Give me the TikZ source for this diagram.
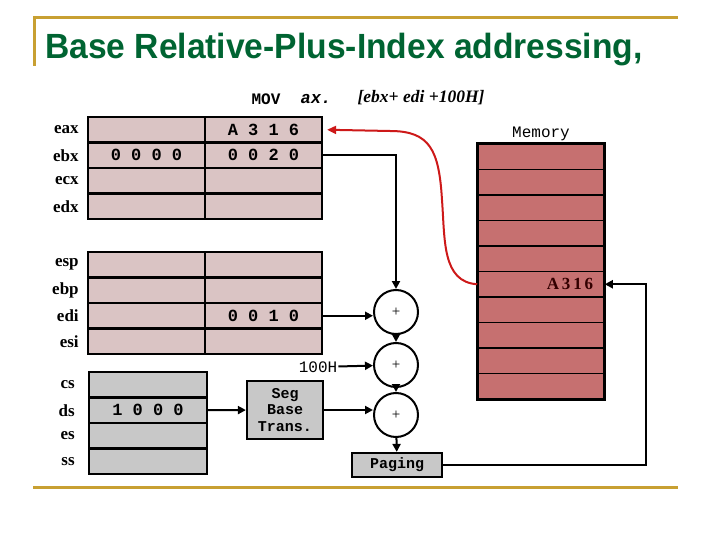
\documentclass[tikz,border=0pt]{standalone}
\usepackage{fontspec}
\setmainfont{Liberation Serif}
\setsansfont{Liberation Sans}
\setmonofont{Liberation Mono}
\usepackage{xcolor}
\usepackage{tikz}
\usetikzlibrary{arrows.meta,positioning,shapes}

\definecolor{rulegold}{RGB}{200,160,50}
\definecolor{titlegreen}{RGB}{0,100,50}
\definecolor{regpink}{RGB}{218,196,196}
\definecolor{seggray}{RGB}{200,200,200}
\definecolor{memred}{RGB}{198,112,112}
\definecolor{curvered}{RGB}{205,25,25}

\begin{document}
\begin{tikzpicture}[x=1pt,y=-1pt,
    cell/.style={draw,line width=2.2pt,fill=regpink,minimum width=117pt,minimum height=25.5pt,inner sep=0pt,
      font=\ttfamily\bfseries\fontsize{17}{17}\selectfont},
    segcell/.style={cell,fill=seggray,minimum width=118pt},
    memcell/.style={draw,line width=1.6pt,fill=memred,minimum width=126pt,minimum height=25.5pt,inner sep=0pt},
    reglabel/.style={inner sep=0pt,font=\bfseries\fontsize{17}{17}\selectfont},
    unitbox/.style={draw,line width=2.2pt,fill=seggray,inner sep=0pt,align=center,
      font=\ttfamily\bfseries\fontsize{15}{16.5}\selectfont},
    adder/.style={draw,line width=2pt,circle,minimum size=44pt,inner sep=0pt,font=\fontsize{15}{15}\selectfont},
    mono/.style={inner sep=1pt,font=\ttfamily\fontsize{16}{16}\selectfont},
    conn/.style={line width=2pt,-{Triangle[length=8pt,width=8pt]}},
    back/.style={line width=2pt,draw=curvered,-{Triangle[length=9pt,width=8pt]}}]
    \useasboundingbox (0,0) rectangle (720,540);
    % Frame
    \draw[rulegold,line width=3pt] (33,18) -- (678,18);
    \draw[rulegold,line width=3pt] (34,18) -- (34,66);
    \draw[rulegold,line width=3pt] (33,487) -- (678,487);
    \node[anchor=west,inner sep=0pt,text=titlegreen,font=\sffamily\bfseries\fontsize{35}{35}\selectfont] (title) at (45,50)
      {\scalebox{0.96}[1]{Base Relative-Plus-Index addressing,}};
    % Instruction
    \node[font=\ttfamily\bfseries\fontsize{16}{16}\selectfont] (mov) at (266,99) {MOV};
    \node[font=\ttfamily\bfseries\itshape\fontsize{17}{17}\selectfont] (dst) at (316,99) {ax.};
    \node[font=\bfseries\itshape\fontsize{17.5}{17.5}\selectfont] (src) at (421,98) {[ebx+ edi +100H]};
    % General registers
    \foreach \r/\lo/\hi [count=\i from 0] in {eax//A 3 1 6,ebx/0 0 0 0/0 0 2 0,ecx//,edx//}{
      \node[cell] (\r-lo) at (146.5,129.75+25.5*\i) {\lo};
      \node[cell] (\r-hi) at (263.5,129.75+25.5*\i) {\hi};
      \node[reglabel,left=8pt of \r-lo] (\r) {\r};
    }
    \foreach \r/\lo/\hi [count=\i from 0] in {esp//,ebp//,edi//0 0 1 0,esi//}{
      \node[cell] (\r-lo) at (146.5,264.75+25.5*\i) {\lo};
      \node[cell] (\r-hi) at (263.5,264.75+25.5*\i) {\hi};
      \node[reglabel,left=8pt of \r-lo] (\r) {\r};
    }
    % Segment registers
    \foreach \r/\val [count=\i from 0] in {cs/,ds/1 0 0 0,es/,ss/}{
      \node[segcell] (\r-seg) at (148,384.75+25.5*\i) {\val};
      \node[reglabel,left=13pt of \r-seg] (\r) {\r};
    }
    % Memory
    \foreach \k in {0,...,9}
      \node[memcell] (mem\k) at (541,156.75+25.5*\k) {};
    \draw[line width=3pt] (mem0.north west) rectangle (mem9.south east);
    \node[mono,above=1pt of mem0] (memlabel) {Memory};
    \node[inner sep=0pt,font=\bfseries\fontsize{17}{17}\selectfont,text=black!80!red] (memval) at (570,284.25) {A\,3\,1\,6};
    % Adders and units
    \node[adder] (add1) at (396,312) {+};
    \node[adder] (add2) at (396,365) {+};
    \node[adder] (add3) at (396,415) {+};
    \node[mono] (disp) at (318,367) {100H};
    \node[unitbox,minimum width=76pt,minimum height=58pt] (seg) at (285,410) {Seg\\Base\\Trans.};
    \node[unitbox,minimum width=90pt,minimum height=24pt] (paging) at (397,465) {Paging};
    \coordinate (turn) at (646,465);
    % Connections
    \draw[conn] (ebx-hi.east) -| (add1.north);
    \draw[conn] (edi-hi.east) -- (add1.west |- edi-hi.east);
    \draw[conn] (disp) -- (add2);
    \draw[conn] (add1) -- (add2);
    \draw[conn] (add2) -- (add3);
    \draw[conn] (ds-seg) -- (seg);
    \draw[conn] (seg.east) -- (add3.west |- seg.east);
    \draw[conn] (add3) -- (paging);
    \draw[conn] (paging.east) -- (turn) |- (mem5.east);
    % Data back to eax
    \draw[back] (mem5.west) .. controls (442,282) and (445,240) .. (442,200)
      .. controls (439,150) and (430,131) .. (390,131) -- ([xshift=4pt]eax-hi.east);
\end{tikzpicture}
\end{document}
